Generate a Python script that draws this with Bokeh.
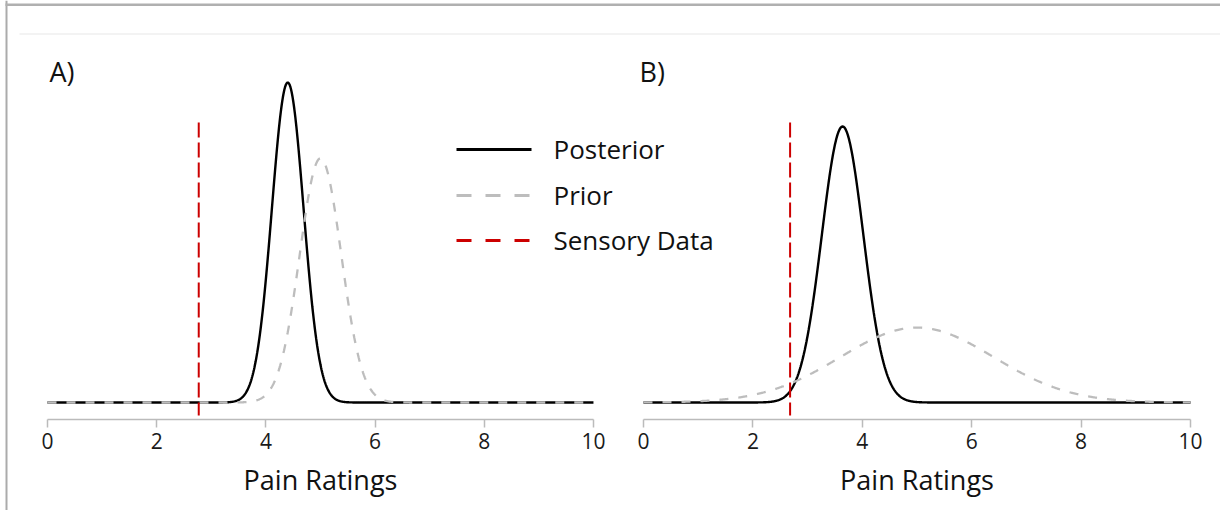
import numpy as np
from bokeh.plotting import figure
from bokeh.models import Range1d, LinearAxis, FixedTicker, BoxAnnotation
from bokeh.core.properties import value
from bokeh.embed import file_html
from bokeh.resources import INLINE

# ---------------- data ----------------
x_ticks = [0, 2, 4, 6, 8, 10]
panel_labels = ["A)", "B)"]
posterior_mean = [4.40, 3.64]
posterior_sd = [0.29, 0.38]
prior_mean = [5.0, 5.0]
prior_sd = [0.38, 1.40]
sensory_data = [2.77, 2.68]
legend_labels = ["Posterior", "Prior", "Sensory Data"]
x_label = "Pain Ratings"

# ---------------- layout constants ----------------
W, H = 1220, 510
OFF = 0                      # canvas origin in page px
sA, sB = 54.6, 54.7          # px per x unit
X0A, X0B = 47, 643           # page px of x=0 in panel A / B
kA, kB = 232.6, 262.9        # px per density unit
BASE = 402                   # page px of y=0

def xA(X): return (X - X0A) / sA
def yA(Y): return (BASE - Y) / kA
def xB(X): return (X - X0B) / sB
def yB(Y): return (BASE - Y) / kB

p = figure(width=W, height=H, output_backend="svg", toolbar_location=None,
           x_range=Range1d(xA(OFF), xA(OFF + W)), y_range=Range1d(yA(OFF + H), yA(OFF)),
           x_axis_type=None, y_axis_type=None, min_border=0,
           outline_line_color=None, background_fill_color="white",
           border_fill_color="white")
p.extra_x_ranges = {"B": Range1d(xB(OFF), xB(OFF + W))}
p.extra_y_ranges = {"B": Range1d(yB(OFF + H), yB(OFF))}

# screenshot frame decorations
p.add_layout(BoxAnnotation(left=xA(5), right=xA(7), fill_color="#ababab",
                           fill_alpha=1, line_color=None))
p.add_layout(BoxAnnotation(top=yA(3), bottom=yA(5.5), left=xA(5), fill_color="#b0b0b0",
                           fill_alpha=1, line_color=None))
p.add_layout(BoxAnnotation(top=yA(33), bottom=yA(34), left=xA(19), fill_color="#e8e8e8",
                           fill_alpha=1, line_color=None))

xs = np.linspace(0, 10, 1001)

def npdf(x, m, s):
    return np.exp(-0.5 * ((x - m) / s) ** 2) / (s * np.sqrt(2 * np.pi))

ranges = [("default", "default", yA), ("B", "B", yB)]
for i in range(2):
    xr, yr, yf = ranges[i]
    kw = dict(x_range_name=xr, y_range_name=yr)
    post = npdf(xs, posterior_mean[i], posterior_sd[i])
    prior = npdf(xs, prior_mean[i], prior_sd[i])
    p.line(xs, post, line_color="black", line_width=2.4, **kw)
    p.line(xs, prior, line_color="#bdbdbd", line_width=2.3, line_dash="9 10", **kw)
    p.segment(x0=[sensory_data[i]], x1=[sensory_data[i]], y0=[yf(122)], y1=[yf(415)],
              line_color="#cc0000", line_width=2, line_dash="15 5", **kw)

    ax = LinearAxis(x_range_name=xr, y_range_name=yr, fixed_location=yf(419),
                    bounds=(0, 10), ticker=FixedTicker(ticks=x_ticks),
                    axis_label=x_label)
    ax.axis_line_color = "#bbbbbb"
    ax.axis_line_width = 1.5
    ax.major_tick_line_color = "#bbbbbb"
    ax.major_tick_line_width = 1.5
    ax.major_tick_out = 8
    ax.major_tick_in = 0
    ax.minor_tick_line_color = None
    ax.major_label_text_font = "Open Sans"
    ax.major_label_text_font_size = "21px"
    ax.major_label_text_color = "#1a1a1a"
    ax.major_label_standoff = 5
    ax.axis_label_text_font = "Open Sans"
    ax.axis_label_text_font_size = "27px"
    ax.axis_label_text_font_style = "normal"
    ax.axis_label_text_color = "#111111"
    ax.axis_label_standoff = 9
    p.add_layout(ax, "below")

# panel letters
p.text(x=[xA(49)], y=[yA(71)], text=[panel_labels[0]], text_font=value("Open Sans"),
       text_font_size=value("27px"), text_color="#111111", text_baseline="middle")
p.text(x=[xB(639)], y=[yB(71)], text=[panel_labels[1]], text_font=value("Open Sans"),
       text_font_size=value("27px"), text_color="#111111", text_baseline="middle",
       x_range_name="B", y_range_name="B")

# legend (drawn manually)
leg_colors = ["black", "#bdbdbd", "#cc0000"]
leg_dash = ["solid", "15 14", "15 14"]
leg_y = [149, 195, 240]
for j in range(3):
    p.segment(x0=[xA(456)], x1=[xA(531)], y0=[yA(leg_y[j])], y1=[yA(leg_y[j])],
              line_color=leg_colors[j], line_width=3, line_dash=leg_dash[j])
    p.text(x=[xA(553)], y=[yA(leg_y[j] - 1)], text=[legend_labels[j]],
           text_font=value("Open Sans"), text_font_size=value("26px"),
           text_color="#111111", text_baseline="middle")

open("out.html", "w").write(file_html(p, INLINE))
